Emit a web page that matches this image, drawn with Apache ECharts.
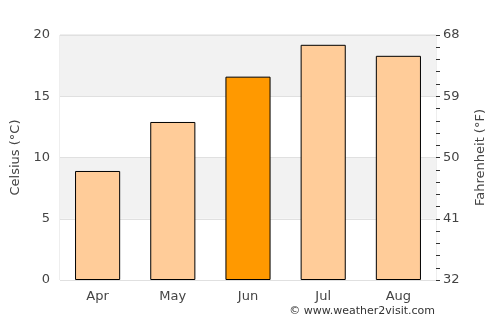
<!DOCTYPE html>
<html>
<head>
<meta charset="utf-8">
<script src="https://cdn.jsdelivr.net/npm/echarts@6/dist/echarts.min.js"></script>
<style>
  html, body { margin: 0; padding: 0; background: #fff; }
  #chart { width: 500px; height: 325px; }
</style>
</head>
<body>
<div id="chart"></div>
<script>
// data
const months = ['Apr', 'May', 'Jun', 'Jul', 'Aug']
const celsius = [8.9, 12.9, 16.6, 19.2, 18.3]
const highlightMonth = 'Jun'
const celsiusTicks = [0, 5, 10, 15, 20]
const fahrenheitTicks = [32, 41, 50, 59, 68]

const chart = echarts.init(document.getElementById('chart'))

const font = 'DejaVu Sans'

const option = {
  animation: false,
  textStyle: {fontFamily: font},
  grid: {
    left: 60, right: 64, top: 35, bottom: 45,
    outerBoundsMode: 'none',
    containLabel: false,
    show: true, borderColor: '#dddddd', borderWidth: 1
  },
  xAxis: {
    type: 'category',
    data: months,
    axisLine: {show: false},
    axisTick: {show: false},
    axisLabel: {color: '#444', fontSize: 13, margin: 10, fontFamily: font}
  },
  yAxis: [
    {
      type: 'value',
      min: celsiusTicks[0],
      max: celsiusTicks[celsiusTicks.length - 1],
      interval: 5,
      name: 'Celsius (°C)',
      nameLocation: 'middle',
      nameGap: 34,
      nameTextStyle: {color: '#444', fontSize: 13, fontFamily: font},
      axisLine: {show: false},
      axisTick: {show: false},
      axisLabel: {color: '#444', fontSize: 13, margin: 10, fontFamily: font},
      splitLine: {lineStyle: {color: '#e0e0e0'}},
      splitArea: {show: true, areaStyle: {color: ['#ffffff', '#f2f2f2']}}
    },
    {
      type: 'value',
      position: 'right',
      min: fahrenheitTicks[0],
      max: fahrenheitTicks[fahrenheitTicks.length - 1],
      interval: 9,
      name: 'Fahrenheit (°F)',
      nameLocation: 'middle',
      nameGap: 38,
      nameRotate: 90,
      nameTextStyle: {color: '#444', fontSize: 13, fontFamily: font},
      axisLine: {show: false},
      axisTick: {show: true, length: 4, lineStyle: {color: '#333'}},
      minorTick: {show: true, splitNumber: 5, length: 4, lineStyle: {color: '#333'}},
      axisLabel: {color: '#444', fontSize: 13, margin: 7, fontFamily: font},
      splitLine: {show: false}
    }
  ],
  series: [
    {
      type: 'bar',
      barWidth: '60%',
      yAxisIndex: 0,
      data: celsius.map((v, i) => ({
        value: v,
        itemStyle: {color: months[i] === highlightMonth ? '#ff9900' : '#ffcc99'}
      })),
      itemStyle: {borderColor: '#000', borderWidth: 1}
    }
  ],
  graphic: [
    {
      type: 'text',
      right: 65,
      top: 306,
      style: {text: '© www.weather2visit.com', fill: '#333', fontSize: 11, fontFamily: font}
    }
  ]
}

chart.setOption(option)
</script>
</body>
</html>
